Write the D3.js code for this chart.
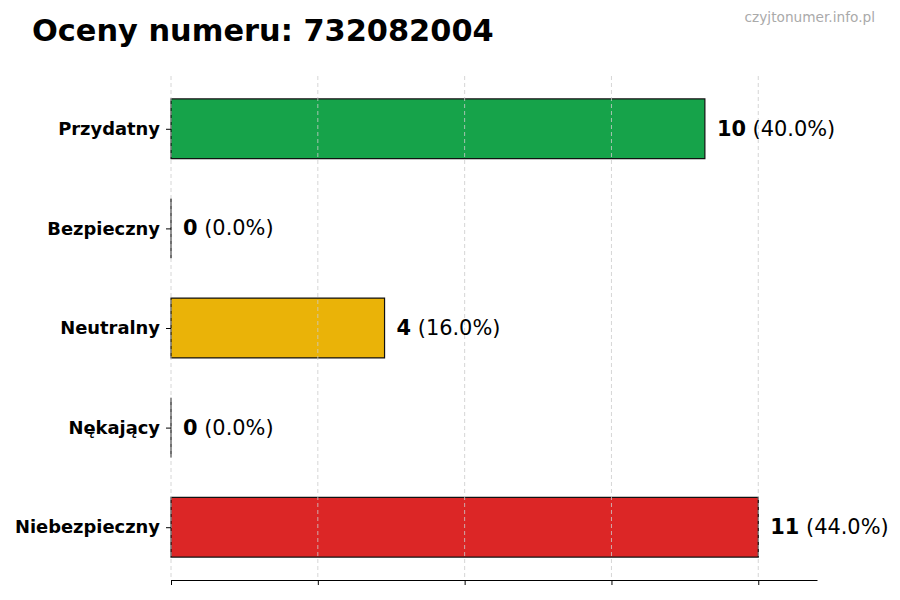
<!DOCTYPE html>
<html>
<head>
<meta charset="utf-8">
<script src="https://d3js.org/d3.v7.min.js"></script>
<style>
    body { margin: 0; background: #fff; }
    text { font-family: "DejaVu Sans", sans-serif; }
</style>
</head>
<body>
<svg id="chart" width="900" height="600"></svg>
<script>
    // data
    const categories = ["Przydatny", "Bezpieczny", "Neutralny", "Nękający", "Niebezpieczny"];
    const counts = [10, 0, 4, 0, 11];
    const percents = ["40.0%", "0.0%", "16.0%", "0.0%", "44.0%"];
    const colors = ["#16a34a", "#22c55e", "#eab308", "#f97316", "#dc2626"];
    const numberLabel = "732082004";

    const svg = d3.select("#chart");

    // plot area
    const plot = { left: 171, right: 817, top: 76, bottom: 580 };
    const maxVal = d3.max(counts);

    const x = d3.scaleLinear()
        .domain([0, maxVal * 1.1])
        .range([plot.left, plot.right]);

    // category index -> pixel, a bit of margin around the bars
    const y = d3.scaleLinear()
        .domain([-0.53, categories.length - 0.47])
        .range([plot.top, plot.bottom]);
    const barH = y(0.6) - y(0);

    const xTicks = d3.range(5).map(i => maxVal * i / 4);

    // bars (paths so a zero bar still shows its edge)
    svg.append("g")
        .selectAll("path")
        .data(counts)
        .join("path")
        .attr("d", (d, i) => {
            const y0 = y(i) - barH / 2;
            return "M" + x(0) + "," + y0 + "H" + x(d) + "V" + (y0 + barH) + "H" + x(0) + "Z";
        })
        .attr("fill", (d, i) => colors[i])
        .attr("stroke", "#111")
        .attr("stroke-width", 1.2);

    // grid on top of bars
    svg.append("g")
        .selectAll("line")
        .data(xTicks)
        .join("line")
        .attr("x1", d => x(d)).attr("x2", d => x(d))
        .attr("y1", plot.top).attr("y2", plot.bottom)
        .attr("stroke", "#cccccc")
        .attr("stroke-width", 0.8)
        .attr("stroke-dasharray", "4,3");

    // x axis (no labels)
    const xAxis = svg.append("g")
        .attr("transform", "translate(0," + plot.bottom + ")")
        .call(d3.axisBottom(x).tickValues(xTicks).tickSize(5).tickFormat("").tickSizeOuter(0));
    xAxis.select(".domain").attr("stroke", "#000").attr("stroke-width", 1.2);
    xAxis.selectAll(".tick line").attr("stroke", "#000").attr("stroke-width", 1);

    // y axis: ticks and labels only
    const yAxis = svg.append("g")
        .attr("transform", "translate(" + plot.left + ",0)")
        .call(d3.axisLeft(y)
            .tickValues(d3.range(categories.length))
            .tickFormat(i => categories[i])
            .tickSize(5)
            .tickPadding(6));
    yAxis.select(".domain").remove();
    yAxis.selectAll(".tick line").attr("stroke", "#000");
    yAxis.selectAll(".tick text")
        .attr("font-family", "DejaVu Sans, sans-serif")
        .attr("font-size", 17.9)
        .attr("font-weight", "bold")
        .attr("fill", "#000");

    // value labels
    const lbl = svg.append("g")
        .selectAll("text")
        .data(counts)
        .join("text")
        .attr("x", d => x(d) + 12)
        .attr("y", (d, i) => y(i))
        .attr("dominant-baseline", "central")
        .attr("font-size", 20.9)
        .attr("fill", "#000");
    lbl.append("tspan").attr("font-weight", "bold").text(d => d);
    lbl.append("tspan").text((d, i) => " (" + percents[i] + ")");

    // title + watermark
    svg.append("text")
        .attr("x", 32).attr("y", 41)
        .attr("font-size", 30.4)
        .attr("font-weight", "bold")
        .text("Oceny numeru: " + numberLabel);

    svg.append("text")
        .attr("x", 875).attr("y", 22)
        .attr("text-anchor", "end")
        .attr("font-size", 13.7)
        .attr("fill", "#aaaaaa")
        .text("czyjtonumer.info.pl");
</script>
</body>
</html>
